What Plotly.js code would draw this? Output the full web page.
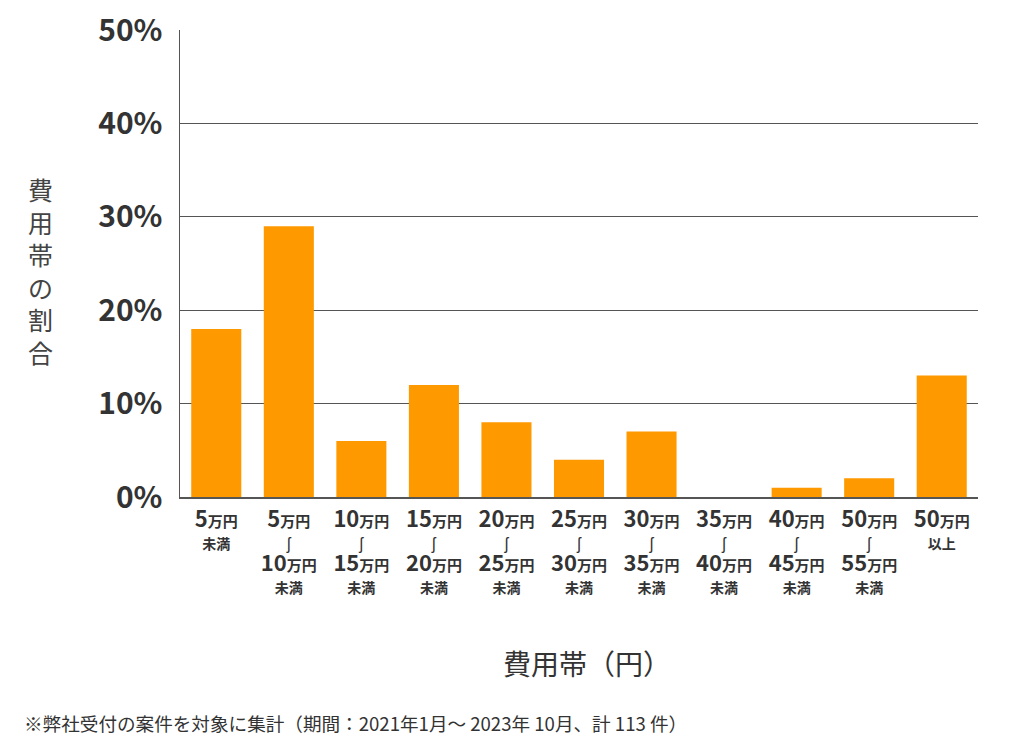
<!DOCTYPE html>
<html>
<head>
<meta charset="utf-8">
<script src="https://cdn.plot.ly/plotly-3.0.1.min.js"></script>
<style>html,body{margin:0;padding:0;background:#fff;}#chart{width:1024px;height:746px;}</style>
</head>
<body>
<div id="chart"></div>
<script>
const lowerBounds = ["5", "5", "10", "15", "20", "25", "30", "35", "40", "50", "50"];
const upperBounds = [null, "10", "15", "20", "25", "30", "35", "40", "45", "55", null];
const suffixes = ["未満", "未満", "未満", "未満", "未満", "未満", "未満", "未満", "未満", "未満", "以上"];
const shares = [18, 29, 6, 12, 8, 4, 7, 0, 1, 2, 13];
const yTickValues = [0, 10, 20, 30, 40, 50];
const yTickLabels = ["0%", "10%", "20%", "30%", "40%", "50%"];
const xTitle = "費用帯（円）";
const yTitle = "費用帯の割合";
const footnote = "※弊社受付の案件を対象に集計（期間：2021年1月～ 2023年 10月、計 113 件）";

function amt(n) {
  return "<b><span style='font-size:22px'>" + n + "</span><span style='font-size:15px'>万円</span></b>";
}
const sfx = s => "<b><span style='font-size:14px'>" + s + "</span></b>";
const categories = lowerBounds.map((lo, i) => {
  if (upperBounds[i] === null) return amt(lo) + "<br>" + sfx(suffixes[i]);
  return amt(lo) + "<br><span style='font-size:16px'>ʃ</span><br>" + amt(upperBounds[i]) + "<br>" + sfx(suffixes[i]);
});
const catIds = categories.map((c, i) => i);

const trace = {
  type: "bar",
  x: catIds,
  y: shares,
  marker: {color: "#FF9900"},
  hoverinfo: "skip"
};

const layout = {
  width: 1024, height: 746,
  margin: {l: 180, r: 46, t: 30, b: 249},
  paper_bgcolor: "#fff", plot_bgcolor: "#fff",
  bargap: 0.31,
  showlegend: false,
  font: {family: "'Noto Sans CJK JP', 'Noto Sans', sans-serif", color: "#333"},
  xaxis: {
    tickmode: "array", tickvals: catIds, ticktext: categories,
    range: [-0.5, 10.5],
    showline: true, linecolor: "#555", linewidth: 1.5,
    ticks: "", showgrid: false, zeroline: false,
    tickfont: {size: 17, color: "#333"},
    tickangle: 0, ticklabelstandoff: 8
  },
  yaxis: {
    range: [0, 50],
    tickmode: "array", tickvals: yTickValues, ticktext: yTickLabels,
    tickfont: {size: 30, color: "#333", weight: "bold"},
    showgrid: true, gridcolor: "#555", gridwidth: 1,
    showline: true, linecolor: "#555", linewidth: 1.5,
    zeroline: false, ticks: "", ticklen: 0, ticklabelstandoff: 10
  },
  annotations: [
    {text: xTitle, xref: "paper", yref: "paper", x: 0.51, y: -0.355, xanchor: "center", yanchor: "middle",
     showarrow: false, font: {size: 28, color: "#333"}},
    {text: yTitle.split("").join("<br>"), xref: "paper", yref: "paper", x: -0.1754, y: 0.486, xanchor: "center", yanchor: "middle",
     showarrow: false, font: {size: 25, color: "#444"}},
    {text: footnote, xref: "paper", yref: "paper", x: -0.198, y: -0.482, xanchor: "left", yanchor: "middle",
     showarrow: false, font: {size: 18.6, color: "#333"}}
  ]
};

Plotly.newPlot("chart", [trace], layout, {displayModeBar: false, staticPlot: true});
</script>
</body>
</html>
